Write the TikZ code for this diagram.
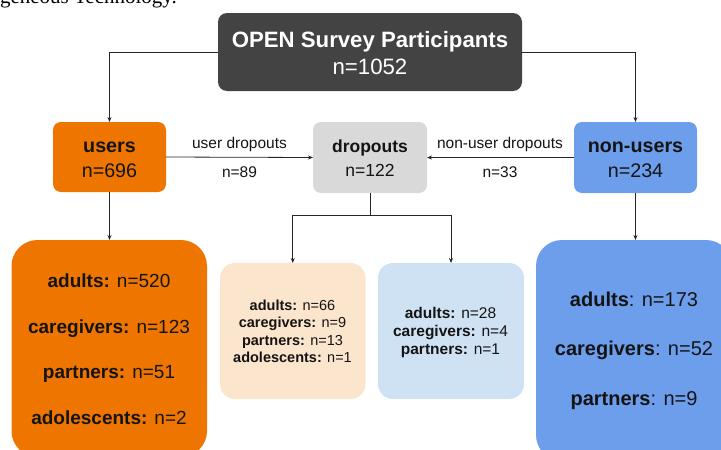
\documentclass[tikz,border=0pt]{standalone}
\usepackage{fontspec}
\setmainfont{Liberation Sans}
\newfontfamily\capfont{Liberation Serif}
\usetikzlibrary{arrows.meta,calc}
\definecolor{darkbox}{RGB}{67,67,67}
\definecolor{orangeU}{RGB}{238,118,0}
\definecolor{blueN}{RGB}{109,158,235}
\definecolor{grayD}{RGB}{217,217,217}
\definecolor{peach}{RGB}{252,229,205}
\definecolor{lightblue}{RGB}{207,226,243}
\definecolor{inkc}{RGB}{20,20,20}
\newcommand{\fs}[1]{\fontsize{#1}{#1}\selectfont}
\begin{document}
\begin{tikzpicture}[x=1pt,y=-1pt,
  box/.style={rectangle, inner sep=0pt, outer sep=0pt},
  conn/.style={draw=black!85, line width=0.8pt},
  arr/.style={-{Stealth[length=5pt,width=4pt]}},
  txt/.style={inner sep=0pt, anchor=base, text=inkc},
  wtxt/.style={inner sep=0pt, anchor=base, text=white}]
\useasboundingbox (0,0) rectangle (721,450);
\begin{scope}
\clip (0,0) rectangle (721,450);
% caption fragment
\node[inner sep=0pt, anchor=base east, text=black] (cap) at (177,3) {\capfont\fs{21}Heterogeneous Technology.};
% boxes
\node[box, fill=darkbox, rounded corners=9pt, minimum width=304pt, minimum height=78pt] (top) at (370,52) {};
\node[box, fill=orangeU, rounded corners=8pt, minimum width=113pt, minimum height=70pt] (users) at (109.5,157) {};
\node[box, fill=grayD, rounded corners=8pt, minimum width=114pt, minimum height=71pt] (drop) at (370,157.5) {};
\node[box, fill=blueN, rounded corners=8pt, minimum width=123pt, minimum height=71pt] (non) at (635.5,157.5) {};
\node[box, fill=peach, rounded corners=15pt, minimum width=145.5pt, minimum height=136pt] (pch) at (292.75,331) {};
\node[box, fill=lightblue, rounded corners=15pt, minimum width=146pt, minimum height=136pt] (lbl) at (451,331) {};
\node[box, fill=orangeU, rounded corners=26pt, minimum width=195.5pt, minimum height=217pt] (ubig) at (109.25,348.5) {};
\node[box, fill=blueN, rounded corners=26pt, minimum width=196pt, minimum height=221pt] (bbig) at (634,350.5) {};
% texts
\node[wtxt] (t1) at (370,47) {\fs{22.2}\bfseries OPEN Survey Participants};
\node[wtxt] (t2) at (370,74) {\fs{22.2}n=1052};
\node[txt] (u1) at (109.5,152.7) {\fs{19.7}\bfseries users};
\node[txt] (u2) at (109.5,177) {\fs{19.7}n=696};
\node[txt] (d1) at (370,152) {\fs{17.5}\bfseries dropouts};
\node[txt] (d2) at (370,176) {\fs{17.5}n=122};
\node[txt] (n1) at (635.5,152.5) {\fs{19.7}\bfseries non-users};
\node[txt] (n2) at (635.5,177.3) {\fs{19.7}n=234};
\node[txt] (e1) at (239.5,148) {\fs{15.5}user dropouts};
\node[txt] (e2) at (239.5,177.7) {\fs{15.5}n=89};
\node[txt] (e3) at (500,148) {\fs{15.5}non-user dropouts};
\node[txt] (e4) at (500,177.7) {\fs{15.5}n=33};
\node[txt] (o1) at (109,287.5) {\fs{19}\textbf{adults:} n=520};
\node[txt] (o2) at (109,333) {\fs{19}\textbf{caregivers:} n=123};
\node[txt] (o3) at (109,378.5) {\fs{19}\textbf{partners:} n=51};
\node[txt] (o4) at (109,424) {\fs{19}\textbf{adolescents:} n=2};
\node[txt] (p1) at (292.5,310) {\fs{14.5}\textbf{adults:} n=66};
\node[txt] (p2) at (292.5,327.6) {\fs{14.5}\textbf{caregivers:} n=9};
\node[txt] (p3) at (292.5,345.2) {\fs{14.5}\textbf{partners:} n=13};
\node[txt] (p4) at (292.5,362.8) {\fs{14.5}\textbf{adolescents:} n=1};
\node[txt] (l1) at (450.5,318.8) {\fs{15.5}\textbf{adults:} n=28};
\node[txt] (l2) at (450.5,336.8) {\fs{15.5}\textbf{caregivers:} n=4};
\node[txt] (l3) at (450.5,354.8) {\fs{15.5}\textbf{partners:} n=1};
\node[txt] (b1) at (634,306.7) {\fs{20}\textbf{adults}: n=173};
\node[txt] (b2) at (634,355.5) {\fs{20}\textbf{caregivers}: n=52};
\node[txt] (b3) at (634,405) {\fs{20}\textbf{partners}: n=9};
% connectors
\draw[conn, arr] (top.west) -| (users.north);
\draw[conn, arr] (top.east) -| (non.north);
\draw[conn, arr] (users.east) -- (drop.west);
\draw[conn, arr] (non.west) -- (drop.east);
\draw[conn, arr] (users.south) -- (users.south |- ubig.north);
\draw[conn, arr] (non.south) -- (non.south |- bbig.north);
\coordinate (split) at ($(drop.south)+(0,22)$);
\draw[conn] (drop.south) -- (split);
\draw[conn, arr] (split) -| (pch.north);
\draw[conn, arr] (split) -| (lbl.north);
\end{scope}
\end{tikzpicture}
\end{document}
